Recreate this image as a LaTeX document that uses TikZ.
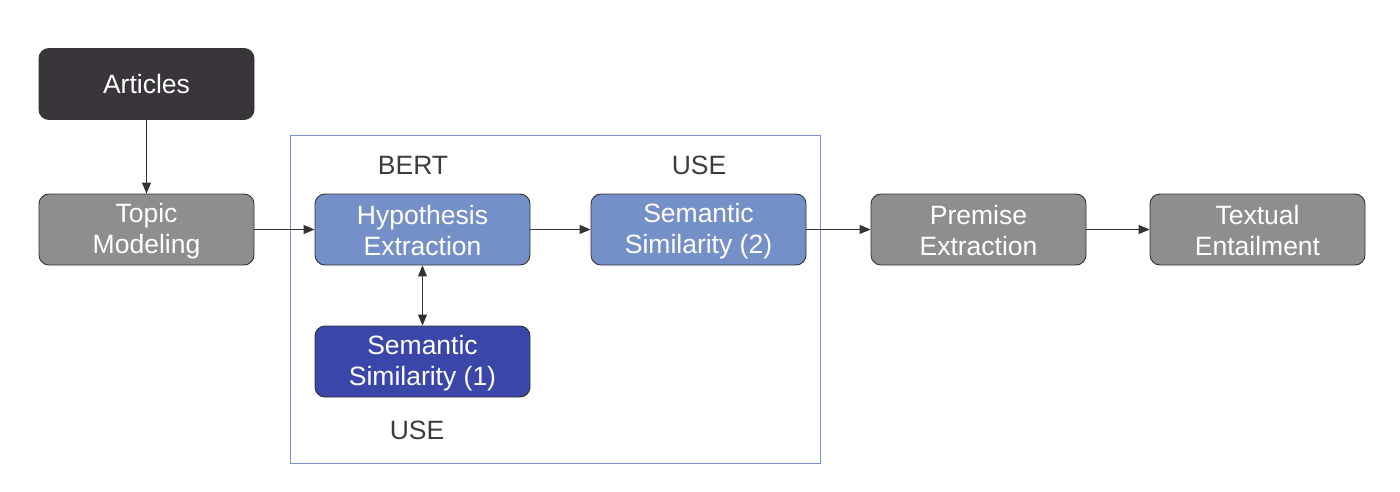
\documentclass[tikz,border=0pt]{standalone}
\usepackage{fontspec}
\setmainfont{Liberation Sans}
\usetikzlibrary{arrows.meta}
\definecolor{darkbox}{HTML}{39353A}
\definecolor{graybox}{HTML}{8E8E8E}
\definecolor{bluebox}{HTML}{758FC8}
\definecolor{dbluebox}{HTML}{3B47A8}
\definecolor{framec}{HTML}{7A8FD0}
\definecolor{labc}{HTML}{3C3C3C}
\definecolor{linec}{HTML}{333333}
\tikzset{
  box/.style={draw=linec, line width=0.9pt, rounded corners=10pt, minimum width=215pt, minimum height=71pt,
    inner sep=0pt, align=center, text=white, font=\fontsize{26.5}{31}\selectfont},
  lab/.style={text=labc, font=\fontsize{26.5}{30}\selectfont, inner sep=0pt},
  conn/.style={draw=linec, line width=1pt, -{Triangle[length=11pt,width=9pt]}},
}
\begin{document}
\begin{tikzpicture}[x=1pt,y=-1pt]
\useasboundingbox (0,0) rectangle (1400,492);
\draw[framec, line width=1pt] (290.5,136) rectangle (820.5,463);
\node[box, fill=darkbox] (art) at (146.5,84) {Articles};
\node[box, fill=graybox] (topic) at (146.5,229.5) {\rule{0pt}{22pt}Topic\\Modeling};
\node[box, fill=bluebox] (hyp) at (422.5,229.5) {\rule{0pt}{22pt}Hypothesis\\Extraction};
\node[box, fill=bluebox] (ss2) at (698.5,229.5) {\rule{0pt}{22pt}Semantic\\Similarity (2)};
\node[box, fill=graybox] (prem) at (978.5,229.5) {\rule{0pt}{22pt}Premise\\Extraction};
\node[box, fill=graybox] (te) at (1257.5,229.5) {\rule{0pt}{22pt}Textual\\Entailment};
\node[box, fill=dbluebox] (ss1) at (422.5,361.5) {\rule{0pt}{22pt}Semantic\\Similarity (1)};
\node[lab] (bert) at (413,165) {BERT};
\node[lab] (use2) at (699,165) {USE};
\node[lab] (use1) at (417,430) {USE};
\draw[conn] (art) -- (topic);
\draw[conn] (topic) -- (hyp);
\draw[conn] (hyp) -- (ss2);
\draw[conn] (ss2) -- (prem);
\draw[conn] (prem) -- (te);
\draw[draw=linec, line width=1pt, {Triangle[length=11pt,width=9pt]}-{Triangle[length=11pt,width=9pt]}] (hyp) -- (ss1);
\end{tikzpicture}
\end{document}
